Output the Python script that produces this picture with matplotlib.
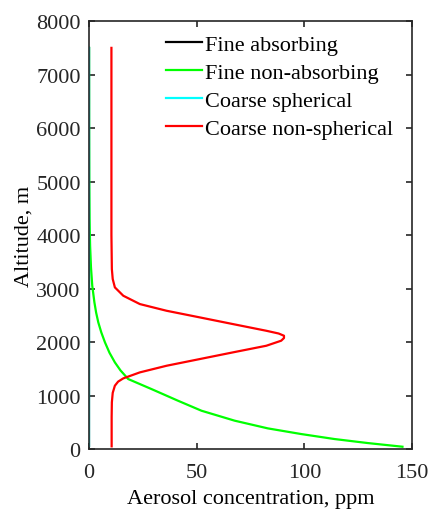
import numpy as np
import matplotlib.pyplot as plt

plt.rcParams['font.family'] = ['Liberation Serif', 'DejaVu Serif']

# altitude (m) / concentration (ppm)
alt_top = [50, 7500]
fine_abs = [0, 0]
coarse_sph = [0, 0]

green_alt = [43, 112, 187, 280, 386, 530, 716, 903, 1121, 1308, 1470, 1620,
             1800, 1994, 2180, 2368, 2550, 2742, 3053, 3400, 3800, 4300, 5000,
             6000, 7500]
green_ppm = [145.5, 129.3, 113.9, 98.5, 83, 67.6, 52.2, 41.3, 29, 18.2, 14.6,
             12, 9.5, 7.4, 5.7, 4.3, 3.3, 2.5, 1.5, 0.9, 0.5, 0.25, 0.1,
             0.03, 0.0]

red_alt = [50, 600, 873, 1050, 1184, 1260, 1321, 1433, 1557, 1682, 1807, 1931,
           2025, 2075, 2118, 2160, 2211, 2336, 2461, 2585, 2710, 2866, 3022,
           3178, 3364, 4000, 7500]
red_ppm = [10.5, 10.5, 10.6, 11.0, 12, 13.5, 15.9, 23.6, 36, 51.4, 66.8, 82.3,
           89.2, 90.5, 90.5, 88, 82.3, 66.8, 51.4, 36, 23.6, 15.9, 12,
           11.0, 10.6, 10.4, 10.4]

fig = plt.figure(figsize=(4.28, 5.10), dpi=100)
ax = fig.add_axes([0.208, 0.1176, 0.755, 0.839])

lw = 1.6
ax.plot(fine_abs, alt_top, color='k', lw=lw, label='Fine absorbing')
ax.plot(green_ppm, green_alt, color=(0, 1, 0), lw=lw, label='Fine non-absorbing')
ax.plot(coarse_sph, alt_top, color=(0, 1, 1), lw=lw, label='Coarse spherical')
ax.plot(red_ppm, red_alt, color=(1, 0, 0), lw=lw, label='Coarse non-spherical')

ax.set_xlim(0, 150)
ax.set_ylim(0, 8000)
ax.set_xticks([0, 50, 100, 150])
ax.set_yticks(np.arange(0, 8001, 1000))
ax.tick_params(direction='in', length=4, width=1.2, labelsize=16,
               top=True, right=True, colors='#262626')
ax.tick_params(axis='x', pad=10)
ax.tick_params(axis='y', pad=6)
for s in ax.spines.values():
    s.set_linewidth(1.2)
    s.set_color('#262626')

ax.set_xlabel('Aerosol concentration, ppm', fontsize=16, labelpad=5)
ax.set_ylabel('Altitude, m', fontsize=16, labelpad=2)

ax.legend(loc='upper right', frameon=False, fontsize=16, handlelength=1.6,
          handletextpad=0.15, labelspacing=0.33, borderaxespad=0.2,
          bbox_to_anchor=(0.982, 1.0))

fig.savefig('out.png', dpi=100)
